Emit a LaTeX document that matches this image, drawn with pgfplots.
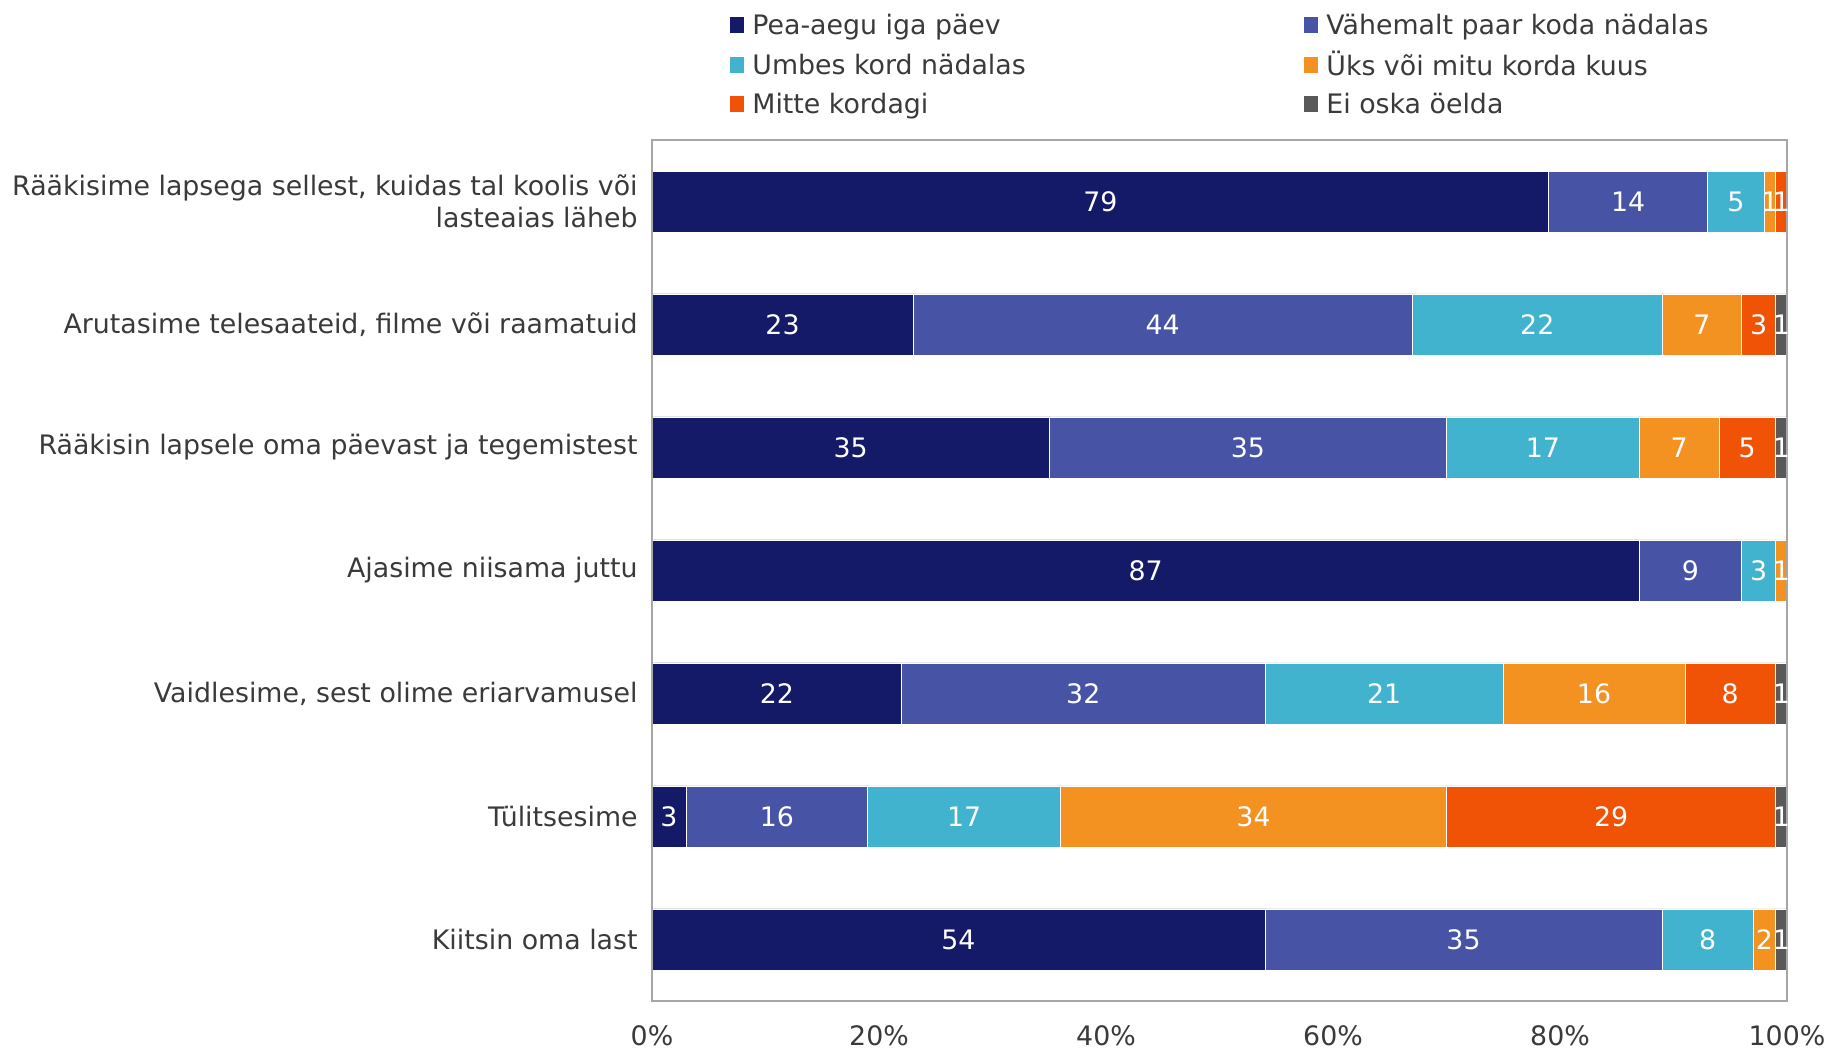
\documentclass[border=0pt]{standalone}
\usepackage{fontspec}
\setmainfont{DejaVu Sans}
\usepackage{pgfplots}
\pgfplotsset{compat=1.18}

\definecolor{cA}{HTML}{141A68}
\definecolor{cB}{HTML}{4753A5}
\definecolor{cC}{HTML}{41B3CE}
\definecolor{cD}{HTML}{F39221}
\definecolor{cE}{HTML}{F05206}
\definecolor{cF}{HTML}{595959}
\definecolor{txt}{HTML}{3A3A3A}
\definecolor{frame}{HTML}{A6A6A6}
\newcommand\lbl{\fontsize{13.4}{16}\selectfont}

\begin{document}
\begin{tikzpicture}
\begin{axis}[
  xbar stacked,
  scale only axis,
  width=567.5pt, height=430.5pt,
  xmin=0, xmax=100,
  ymin=-0.5, ymax=6.5,
  y dir=reverse,
  bar width=30.5pt,
  axis on top,
  axis line style={draw=frame, line width=0.8pt},
  major tick length=0pt,
  ytick={0,...,6},
  yticklabels={{Rääkisime lapsega sellest, kuidas tal koolis või\\lasteaias läheb},
    {Arutasime telesaateid, filme või raamatuid},
    {Rääkisin lapsele oma päevast ja tegemistest},
    {Ajasime niisama juttu},
    {Vaidlesime, sest olime eriarvamusel},
    {Tülitsesime},
    {Kiitsin oma last}},
  yticklabel style={align=right, font=\lbl, text=txt, inner sep=0pt, xshift=-7pt},
  xtick={0,20,...,100},
  xticklabel={\pgfmathprintnumber{\tick}\%},
  xticklabel style={font=\lbl, text=txt, inner sep=0pt, yshift=-12pt},
  /pgf/number format/assume math mode=true,
  nodes near coords={\pgfmathfloatifflags{\pgfplotspointmeta}{0}{}{\pgfmathprintnumber{\pgfplotspointmeta}}},
  every node near coord/.append style={font=\lbl, text=white, inner sep=0pt},
  legend columns=2,
  legend style={draw=none, fill=none, inner sep=0pt, font=\lbl, text=txt,
    at={(rel axis cs:0,1)}, anchor=north west, xshift=39pt, yshift=66pt,
    row sep=2.5pt,
    /tikz/every odd column/.append style={column sep=2pt},
    /tikz/every even column/.append style={column sep=0pt}},
  legend cell align=left,
  legend image code/.code={\fill[#1, draw=none] (0pt,-4pt) rectangle (7pt,4pt);},
  every axis plot/.append style={draw=white, line width=0.3pt},
]
\addplot[fill=cA] coordinates {(79,0) (23,1) (35,2) (87,3) (22,4) (3,5) (54,6)};
\addlegendentry{\makebox[274pt][l]{\strut Pea-aegu iga päev}}
\addplot[fill=cB] coordinates {(14,0) (44,1) (35,2) (9,3) (32,4) (16,5) (35,6)};
\addlegendentry{\strut Vähemalt paar koda nädalas}
\addplot[fill=cC] coordinates {(5,0) (22,1) (17,2) (3,3) (21,4) (17,5) (8,6)};
\addlegendentry{\makebox[274pt][l]{\strut Umbes kord nädalas}}
\addplot[fill=cD] coordinates {(1,0) (7,1) (7,2) (1,3) (16,4) (34,5) (2,6)};
\addlegendentry{\strut Üks või mitu korda kuus}
\addplot[fill=cE] coordinates {(1,0) (3,1) (5,2) (0,3) (8,4) (29,5) (0,6)};
\addlegendentry{\makebox[274pt][l]{\strut Mitte kordagi}}
\addplot[fill=cF] coordinates {(0,0) (1,1) (1,2) (0,3) (1,4) (1,5) (1,6)};
\addlegendentry{\strut Ei oska öelda}
\end{axis}
\pgfresetboundingbox
\path ([xshift=-326pt,yshift=-25pt]current axis.south west)
  rectangle ([xshift=22.5pt,yshift=70pt]current axis.north east);
\end{tikzpicture}
\end{document}
